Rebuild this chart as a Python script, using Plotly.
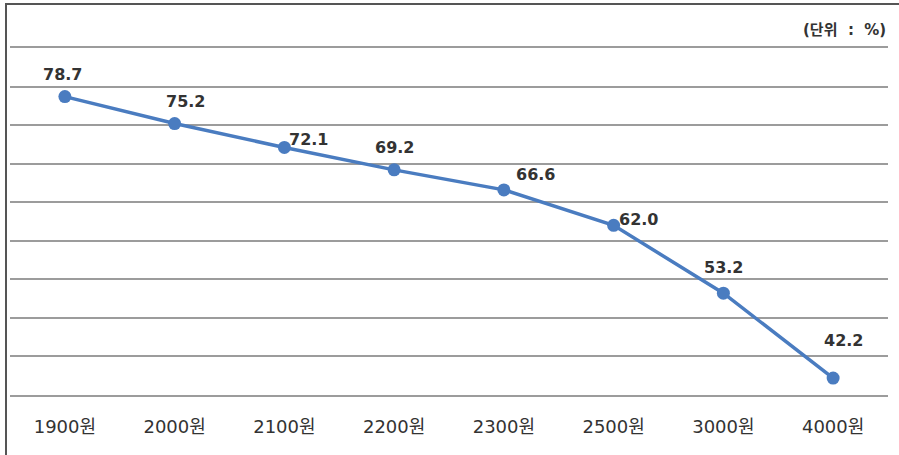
import plotly.graph_objects as go

# Fare levels (KRW) and the corresponding share (%)
categories = ["1900원", "2000원", "2100원", "2200원", "2300원", "2500원", "3000원", "4000원"]
values = [78.7, 75.2, 72.1, 69.2, 66.6, 62.0, 53.2, 42.2]
y_ticks = [40, 45, 50, 55, 60, 65, 70, 75, 80, 85]
unit_label = "(단위&nbsp;&nbsp;:&nbsp;&nbsp;%)"

# pixel offsets of each value label relative to its point
label_dx = [-2, 11, 24, 0, 32, 25, 0, 10]
label_dy = [-22, -22, -8, -22, -15, -6, -26, -38]

FONT = "DejaVu Sans, Noto Sans CJK KR"
LINE_BLUE = "#4a7cc0"
GRID = "#9c9c9c"
TEXT = "#333333"

W, H = 899, 455
L, R, T, B = 10, 11, 48, 60
pw, ph = W - L - R, H - T - B

fig = go.Figure()
fig.add_trace(go.Scatter(
    x=categories, y=values, mode="lines+markers",
    line=dict(color=LINE_BLUE, width=3.5),
    marker=dict(color=LINE_BLUE, size=13),
    showlegend=False, hoverinfo="skip",
))

for c, v, dx, dy in zip(categories, values, label_dx, label_dy):
    fig.add_annotation(
        x=c, y=v, text=f"<b>{v:.1f}</b>", showarrow=False,
        xshift=dx, yshift=-dy,
        font=dict(family=FONT, size=16, color=TEXT),
    )

fig.add_annotation(
    xref="paper", yref="paper", x=1.0, y=(H - B - 30) / ph,
    xanchor="right", yanchor="middle", showarrow=False,
    text=f"<b>{unit_label}</b>",
    font=dict(family=FONT, size=15, color=TEXT),
)

# frame lines on the left and top edges
def px_x(px):
    return (px - L) / pw

def px_y(py):
    return (H - B - py) / ph

fig.add_shape(type="line", xref="paper", yref="paper",
              x0=px_x(6), x1=px_x(6), y0=px_y(3), y1=px_y(H + 2),
              line=dict(color="#555555", width=2))
fig.add_shape(type="line", xref="paper", yref="paper",
              x0=px_x(5), x1=px_x(W + 2), y0=px_y(4), y1=px_y(4),
              line=dict(color="#555555", width=2))

fig.update_xaxes(
    type="category", range=[-0.5, len(categories) - 0.5],
    showgrid=False, zeroline=False, ticks="",
    showline=True, mirror=True, linecolor=GRID, linewidth=1.5,
    ticklabelstandoff=15,
    tickfont=dict(family=FONT, size=18, color=TEXT),
)
fig.update_yaxes(
    range=[y_ticks[0], y_ticks[-1]], tickvals=y_ticks,
    showticklabels=False, showgrid=True, gridcolor=GRID, gridwidth=1.5,
    zeroline=False, showline=False,
)

fig.update_layout(
    width=W, height=H,
    margin=dict(l=L, r=R, t=T, b=B),
    paper_bgcolor="white", plot_bgcolor="white",
    font=dict(family=FONT),
)

fig.write_html("out.html")
